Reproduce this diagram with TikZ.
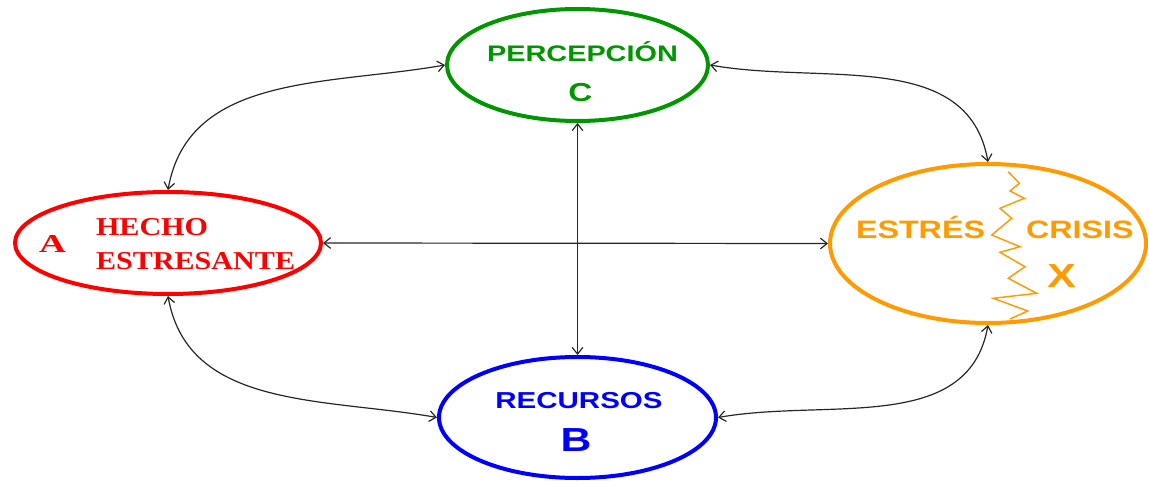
\documentclass[tikz,border=0pt]{standalone}
\usepackage{fontspec}
\newfontfamily\sansx[FakeStretch=1.28]{Liberation Sans}
\newfontfamily\serifx[FakeStretch=1.17]{Liberation Serif}
\newfontfamily\serifa[FakeStretch=1.45]{Liberation Serif}
\usetikzlibrary{arrows.meta,shapes.geometric}
\definecolor{cgreen}{RGB}{0,150,0}
\definecolor{cred}{RGB}{255,0,0}
\definecolor{cblue}{RGB}{0,0,255}
\definecolor{corange}{RGB}{255,155,0}
\begin{document}
\begin{tikzpicture}[x=0.75pt,y=0.75pt,
  ell/.style={draw, ellipse, line width=3pt, inner sep=0pt},
  conn/.style={draw=black!85, line width=0.9pt, >={Straight Barb[length=5pt,width=8pt]}, <->},
  lbl/.style={inner sep=0pt, outer sep=0pt}]
\useasboundingbox (0,0) rectangle (1149,-485);
% ellipses
\node[ell, draw=cgreen, minimum width=195.75pt, minimum height=84pt] (C) at (577.5,-65) {};
\node[ell, draw=cred, minimum width=229.5pt, minimum height=76.5pt] (A) at (168,-243) {};
\node[ell, draw=corange, minimum width=237pt, minimum height=119.25pt] (X) at (988,-243.5) {};
\node[ell, draw=cblue, minimum width=207.75pt, minimum height=90.75pt] (B) at (577.5,-417.5) {};
% texts
\node[lbl, anchor=base, text=cgreen, font=\sansx\bfseries\fontsize{16.9}{18}\selectfont] (tC1) at (582.5,-62) {PERCEPCIÓN};
\node[lbl, anchor=base, text=cgreen, font=\sansx\bfseries\fontsize{19.5}{20}\selectfont] (tC2) at (580.5,-102) {C};
\node[lbl, anchor=base, text=cblue, font=\sansx\bfseries\fontsize{17.3}{18}\selectfont] (tB1) at (579,-408) {RECURSOS};
\node[lbl, anchor=base, text=cblue, font=\sansx\bfseries\fontsize{25}{26}\selectfont] (tB2) at (576,-451.7) {B};
\node[lbl, anchor=base, text=cred, font=\serifa\bfseries\fontsize{19.3}{20}\selectfont] (tA1) at (52.5,-252) {A};
\node[lbl, anchor=base west, text=cred, font=\serifx\bfseries\fontsize{19.3}{20}\selectfont] (tA2) at (96,-235) {HECHO};
\node[lbl, anchor=base west, text=cred, font=\serifx\bfseries\fontsize{19.3}{20}\selectfont] (tA3) at (96,-269) {ESTRESANTE};
\node[lbl, anchor=base west, text=corange, font=\sansx\bfseries\fontsize{18.9}{20}\selectfont] (tX1) at (856,-238) {ESTRÉS};
\node[lbl, anchor=base west, text=corange, font=\sansx\bfseries\fontsize{18.9}{20}\selectfont] (tX2) at (1026,-238) {CRISIS};
\node[lbl, anchor=base, text=corange, font=\sansx\bfseries\fontsize{25}{26}\selectfont] (tX3) at (1061.5,-287) {X};
% zigzag
\draw[corange, line width=1.1pt, line join=miter]
  (1008.3,-171.7) -- (1019.3,-183.3) -- (1010,-191) -- (1024.3,-198.3)
  -- (1000,-208.3) -- (1011.7,-218.3) -- (991.7,-235) -- (1020,-246.7)
  -- (1000,-252.3) -- (1025,-266.7) -- (1008.3,-278.3) -- (1036.7,-293.3)
  -- (993.3,-298.3) -- (1027.7,-311) -- (1010,-319);
% connectors
\draw[conn] (A.north) to[out=80,in=190] (C.west);
\draw[conn] (C.east) to[out=-10,in=100] (X.north);
\draw[conn] (A.south) to[out=-80,in=170] (B.west);
\draw[conn] (B.east) to[out=10,in=-100] (X.south);
\draw[conn] (A.east) -- (X.west);
\draw[conn] (C.south) -- (B.north);
\end{tikzpicture}
\end{document}
